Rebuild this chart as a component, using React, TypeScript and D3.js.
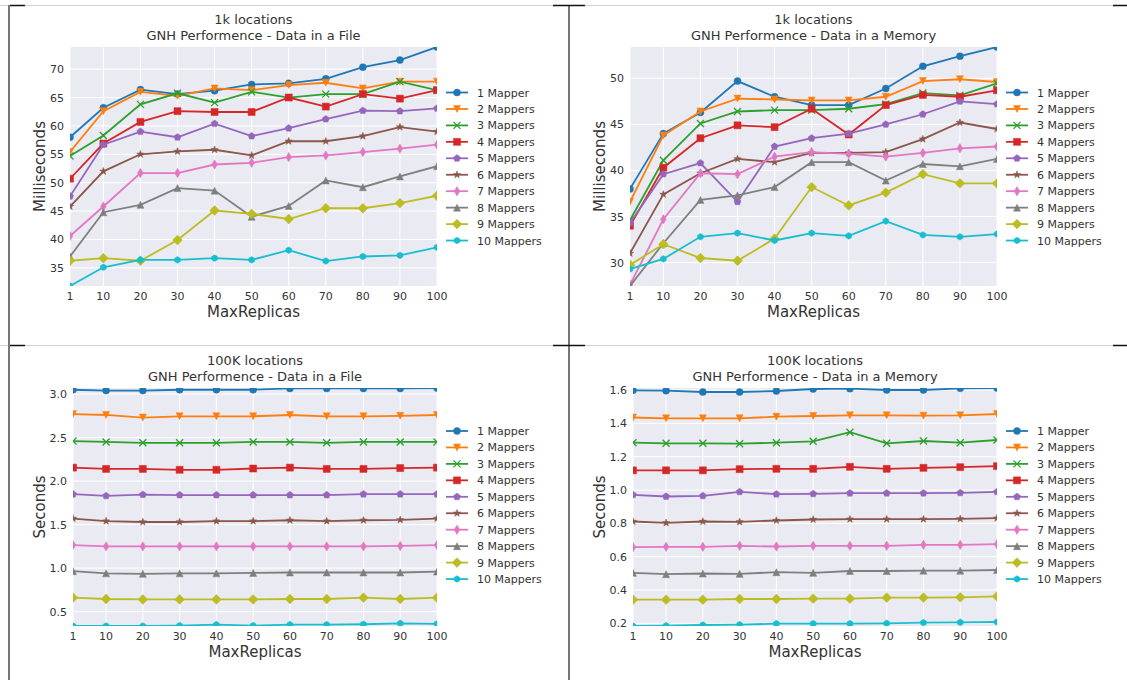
import React from 'react';
import * as d3 from 'd3';

const replicas = [1, 10, 20, 30, 40, 50, 60, 70, 80, 90, 100];
const mapperNames = ['1 Mapper', '2 Mappers', '3 Mappers', '4 Mappers', '5 Mappers',
  '6 Mappers', '7 Mappers', '8 Mappers', '9 Mappers', '10 Mappers'];
const colors = ['#1f77b4', '#ff7f0e', '#2ca02c', '#d62728', '#9467bd',
  '#8c564b', '#e377c2', '#7f7f7f', '#bcbd22', '#17becf'];
const markers = ['o', 'v', 'x', 's', 'p', '*', 'd', '^', 'D', 'h'];

// 1k locations, data in a file (ms)
const fileMs1k = [
  [58.0, 63.2, 66.4, 65.6, 66.2, 67.3, 67.5, 68.3, 70.35, 71.6, 73.9],
  [55.4, 62.6, 66.0, 65.3, 66.6, 66.3, 67.2, 67.6, 66.6, 67.8, 67.8],
  [54.7, 58.3, 63.8, 65.75, 64.1, 66.0, 65.0, 65.6, 65.6, 67.8, 66.3],
  [50.7, 56.9, 60.7, 62.6, 62.45, 62.45, 65.0, 63.4, 65.6, 64.8, 66.3],
  [47.6, 56.7, 59.0, 58.0, 60.4, 58.2, 59.6, 61.2, 62.7, 62.6, 63.1],
  [45.8, 52.0, 55.0, 55.5, 55.8, 54.8, 57.3, 57.3, 58.2, 59.8, 59.0],
  [40.6, 45.8, 51.7, 51.7, 53.2, 53.5, 54.5, 54.8, 55.4, 56.0, 56.7],
  [37.0, 44.8, 46.1, 49.05, 48.6, 44.0, 45.9, 50.4, 49.2, 51.1, 52.9],
  [36.25, 36.7, 36.25, 39.9, 45.1, 44.5, 43.6, 45.5, 45.5, 46.4, 47.7],
  [31.8, 35.1, 36.4, 36.4, 36.7, 36.4, 38.1, 36.2, 37.0, 37.2, 38.6],
];

// 1k locations, data in memory (ms)
const memoryMs1k = [
  [38.0, 44.0, 46.3, 49.7, 48.0, 47.1, 47.1, 48.9, 51.3, 52.4, 53.4],
  [36.6, 43.8, 46.4, 47.8, 47.7, 47.6, 47.6, 48.0, 49.7, 49.9, 49.6],
  [34.6, 41.1, 45.1, 46.4, 46.55, 46.55, 46.7, 47.2, 48.4, 48.15, 49.45],
  [34.0, 40.3, 43.5, 44.9, 44.7, 46.7, 43.9, 47.1, 48.2, 48.0, 48.7],
  [34.3, 39.6, 40.8, 36.6, 42.6, 43.5, 44.0, 45.0, 46.1, 47.5, 47.2],
  [31.0, 37.4, 39.7, 41.25, 40.9, 41.9, 41.9, 42.0, 43.4, 45.2, 44.5],
  [27.6, 34.7, 39.7, 39.6, 41.5, 42.0, 41.8, 41.5, 41.9, 42.4, 42.6],
  [27.46, 32.1, 36.8, 37.3, 38.2, 40.9, 40.9, 38.9, 40.7, 40.45, 41.25],
  [29.75, 32.0, 30.5, 30.2, 32.6, 38.2, 36.2, 37.6, 39.6, 38.6, 38.6],
  [29.3, 30.4, 32.8, 33.2, 32.4, 33.2, 32.9, 34.5, 33.0, 32.8, 33.1],
];

// 100K locations, data in a file (s)
const fileSec100k = [
  [3.05, 3.04, 3.04, 3.05, 3.05, 3.05, 3.065, 3.065, 3.065, 3.065, 3.07],
  [2.77, 2.76, 2.73, 2.745, 2.745, 2.745, 2.76, 2.745, 2.745, 2.75, 2.76],
  [2.46, 2.45, 2.44, 2.44, 2.44, 2.45, 2.45, 2.44, 2.45, 2.45, 2.45],
  [2.155, 2.14, 2.14, 2.13, 2.13, 2.145, 2.155, 2.14, 2.14, 2.15, 2.155],
  [1.85, 1.83, 1.845, 1.84, 1.84, 1.84, 1.84, 1.84, 1.85, 1.85, 1.85],
  [1.57, 1.54, 1.53, 1.53, 1.54, 1.54, 1.55, 1.54, 1.55, 1.555, 1.57],
  [1.265, 1.25, 1.25, 1.25, 1.25, 1.25, 1.25, 1.25, 1.25, 1.255, 1.265],
  [0.965, 0.94, 0.935, 0.94, 0.94, 0.945, 0.95, 0.95, 0.95, 0.95, 0.96],
  [0.66, 0.645, 0.64, 0.64, 0.64, 0.64, 0.645, 0.645, 0.66, 0.645, 0.66],
  [0.335, 0.335, 0.335, 0.34, 0.35, 0.34, 0.35, 0.35, 0.355, 0.365, 0.36],
];

// 100K locations, data in memory (s)
const memorySec100k = [
  [1.598, 1.596, 1.588, 1.588, 1.594, 1.606, 1.608, 1.6, 1.6, 1.61, 1.612],
  [1.435, 1.43, 1.43, 1.43, 1.44, 1.444, 1.448, 1.448, 1.446, 1.448, 1.456],
  [1.284, 1.28, 1.28, 1.278, 1.284, 1.292, 1.347, 1.28, 1.294, 1.284, 1.3],
  [1.118, 1.118, 1.118, 1.125, 1.127, 1.127, 1.139, 1.127, 1.133, 1.137, 1.143],
  [0.971, 0.961, 0.965, 0.989, 0.975, 0.977, 0.981, 0.981, 0.981, 0.983, 0.989],
  [0.811, 0.803, 0.811, 0.809, 0.817, 0.823, 0.825, 0.825, 0.825, 0.827, 0.831],
  [0.657, 0.659, 0.659, 0.665, 0.661, 0.665, 0.665, 0.665, 0.671, 0.671, 0.675],
  [0.503, 0.495, 0.499, 0.497, 0.507, 0.503, 0.514, 0.514, 0.516, 0.516, 0.52],
  [0.342, 0.342, 0.342, 0.346, 0.346, 0.348, 0.348, 0.354, 0.354, 0.356, 0.362],
  [0.184, 0.186, 0.19, 0.192, 0.198, 0.198, 0.198, 0.2, 0.204, 0.206, 0.208],
];

const ticksFileMs = [35, 40, 45, 50, 55, 60, 65, 70];
const ticksMemoryMs = [30, 35, 40, 45, 50];
const ticksFileSec = [0.5, 1.0, 1.5, 2.0, 2.5, 3.0];
const ticksMemorySec = [0.2, 0.4, 0.6, 0.8, 1.0, 1.2, 1.4, 1.6];

const FONT = '"DejaVu Sans", sans-serif';
const MS = 7; // marker size

function poly(pts: [number, number][]) {
  return 'M' + pts.map(p => p[0].toFixed(2) + ',' + p[1].toFixed(2)).join('L') + 'Z';
}

function regular(n: number, r: number, rot = 0) {
  const pts: [number, number][] = [];
  for (let i = 0; i < n; i++) {
    const a = rot + (i * 2 * Math.PI) / n;
    pts.push([r * Math.sin(a), -r * Math.cos(a)]);
  }
  return poly(pts);
}

function markerPath(kind: string) {
  const r = MS / 2;
  switch (kind) {
    case 'o': return d3.symbol(d3.symbolCircle, Math.PI * r * r)() as string;
    case 'v': return poly([[0, r], [-r, -r], [r, -r]]);
    case '^': return poly([[0, -r], [-r, r], [r, r]]);
    case 's': return poly([[-r, -r], [r, -r], [r, r], [-r, r]]);
    case 'p': return regular(5, r * 1.05);
    case 'h': return regular(6, r * 0.95);
    case 'd': return poly([[0, -r * 1.35], [r * 0.8, 0], [0, r * 1.35], [-r * 0.8, 0]]);
    case 'D': return poly([[0, -r * 1.4], [r * 1.4, 0], [0, r * 1.4], [-r * 1.4, 0]]);
    case '*': {
      const pts: [number, number][] = [];
      for (let i = 0; i < 10; i++) {
        const rr = i % 2 === 0 ? r * 1.1 : r * 0.45;
        const a = (i * Math.PI) / 5;
        pts.push([rr * Math.sin(a), -rr * Math.cos(a)]);
      }
      return poly(pts);
    }
    case 'x': return `M${-r},${-r}L${r},${r}M${-r},${r}L${r},${-r}`;
    default: return '';
  }
}

function Marker({ kind, color, x, y }: { kind: string; color: string; x: number; y: number }) {
  const d = markerPath(kind);
  if (kind === 'x') {
    return <path d={d} transform={`translate(${x},${y})`} stroke={color} strokeWidth={1.3} fill="none" />;
  }
  return <path d={d} transform={`translate(${x},${y})`} fill={color} stroke={color} strokeWidth={0.5} />;
}

type PanelProps = {
  id: string;
  series: number[][];
  left: number; right: number; top: number; bottom: number;
  yTicks: number[];
  yFormat: (v: number) => string;
  title1: string; title2: string;
  yLabel: string;
  yLabelX: number;
  legendX: number; legendY: number;
};

function Panel(p: PanelProps) {
  const x = d3.scaleLinear().domain([1, 100]).range([p.left, p.right]);
  const all = p.series.flat();
  const y = d3.scaleLinear().domain(d3.extent(all) as [number, number]).range([p.bottom, p.top]);
  const line = d3.line<number>().x((_, i) => x(replicas[i])).y(d => y(d));
  const cx = (p.left + p.right) / 2;
  const cy = (p.top + p.bottom) / 2;
  return (
    <g fontFamily={FONT}>
      <defs>
        <clipPath id={p.id}>
          <rect x={p.left} y={p.top} width={p.right - p.left} height={p.bottom - p.top} />
        </clipPath>
      </defs>
      <rect x={p.left} y={p.top} width={p.right - p.left} height={p.bottom - p.top} fill="#eaeaf2" />
      {replicas.map(v => (
        <line key={'gx' + v} x1={x(v)} x2={x(v)} y1={p.top} y2={p.bottom} stroke="#fff" strokeWidth={1} />
      ))}
      {p.yTicks.map(v => (
        <line key={'gy' + v} x1={p.left} x2={p.right} y1={y(v)} y2={y(v)} stroke="#fff" strokeWidth={1} />
      ))}
      <g clipPath={`url(#${p.id})`}>
        {p.series.map((s, k) => (
          <g key={k}>
            <path d={line(s) as string} fill="none" stroke={colors[k]} strokeWidth={1.8} />
            {s.map((v, i) => (
              <Marker key={i} kind={markers[k]} color={colors[k]} x={x(replicas[i])} y={y(v)} />
            ))}
          </g>
        ))}
      </g>
      {replicas.map(v => (
        <text key={'tx' + v} x={x(v)} y={p.bottom + 14} textAnchor="middle" fontSize={11} fill="#333">{v}</text>
      ))}
      {p.yTicks.map(v => (
        <text key={'ty' + v} x={p.left - 6} y={y(v) + 4} textAnchor="end" fontSize={11} fill="#333">{p.yFormat(v)}</text>
      ))}
      <text x={cx} y={p.top - 23} textAnchor="middle" fontSize={13} fill="#333">{p.title1}</text>
      <text x={cx} y={p.top - 7} textAnchor="middle" fontSize={13} fill="#333">{p.title2}</text>
      <text x={cx} y={p.bottom + 31} textAnchor="middle" fontSize={15} fill="#333">MaxReplicas</text>
      <text transform={`translate(${p.yLabelX},${cy}) rotate(-90)`} textAnchor="middle" fontSize={15} fill="#333">{p.yLabel}</text>
      {mapperNames.map((name, k) => {
        const ly = p.legendY + k * 16.45;
        return (
          <g key={name}>
            <line x1={p.legendX} x2={p.legendX + 22} y1={ly} y2={ly} stroke={colors[k]} strokeWidth={1.8} />
            <Marker kind={markers[k]} color={colors[k]} x={p.legendX + 11} y={ly} />
            <text x={p.legendX + 31} y={ly + 4} fontSize={11} fill="#333">{name}</text>
          </g>
        );
      })}
    </g>
  );
}

const fmt0 = (v: number) => String(v);
const fmt1 = (v: number) => v.toFixed(1);

export default function App() {
  return (
    <svg width={1127} height={680} style={{ position: 'absolute', left: 0, top: 0, background: '#fff' }}>
      {/* table borders */}
      <line x1={0} x2={1127} y1={5.5} y2={5.5} stroke="#d0d0d0" strokeWidth={1} />
      <line x1={0} x2={1127} y1={345.5} y2={345.5} stroke="#d0d0d0" strokeWidth={1} />
      <line x1={9} x2={9} y1={5} y2={680} stroke="#777" strokeWidth={2} />
      <line x1={569} x2={569} y1={5} y2={680} stroke="#777" strokeWidth={2} />
      {[5.5, 345.5].map(yy => (
        <g key={yy}>
          <line x1={10} x2={25} y1={yy} y2={yy} stroke="#111" strokeWidth={1.5} />
          <line x1={553} x2={585} y1={yy} y2={yy} stroke="#111" strokeWidth={1.5} />
          <line x1={1113} x2={1127} y1={yy} y2={yy} stroke="#111" strokeWidth={1.5} />
        </g>
      ))}
      <Panel id="c1" series={fileMs1k} left={70} right={437} top={47} bottom={286}
        yTicks={ticksFileMs} yFormat={fmt0} title1="1k locations" title2="GNH Performence - Data in a File"
        yLabel="Milliseconds" yLabelX={45} legendX={446} legendY={92.5} />
      <Panel id="c2" series={memoryMs1k} left={630} right={997} top={47} bottom={286}
        yTicks={ticksMemoryMs} yFormat={fmt0} title1="1k locations" title2="GNH Performence - Data in a Memory"
        yLabel="Milliseconds" yLabelX={605} legendX={1006} legendY={92.5} />
      <Panel id="c3" series={fileSec100k} left={73} right={437} top={388} bottom={626}
        yTicks={ticksFileSec} yFormat={fmt1} title1="100K locations" title2="GNH Performence - Data in a File"
        yLabel="Seconds" yLabelX={45} legendX={446} legendY={431} />
      <Panel id="c4" series={memorySec100k} left={633} right={997} top={388} bottom={626}
        yTicks={ticksMemorySec} yFormat={fmt1} title1="100K locations" title2="GNH Performence - Data in a Memory"
        yLabel="Seconds" yLabelX={605} legendX={1006} legendY={431} />
    </svg>
  );
}
